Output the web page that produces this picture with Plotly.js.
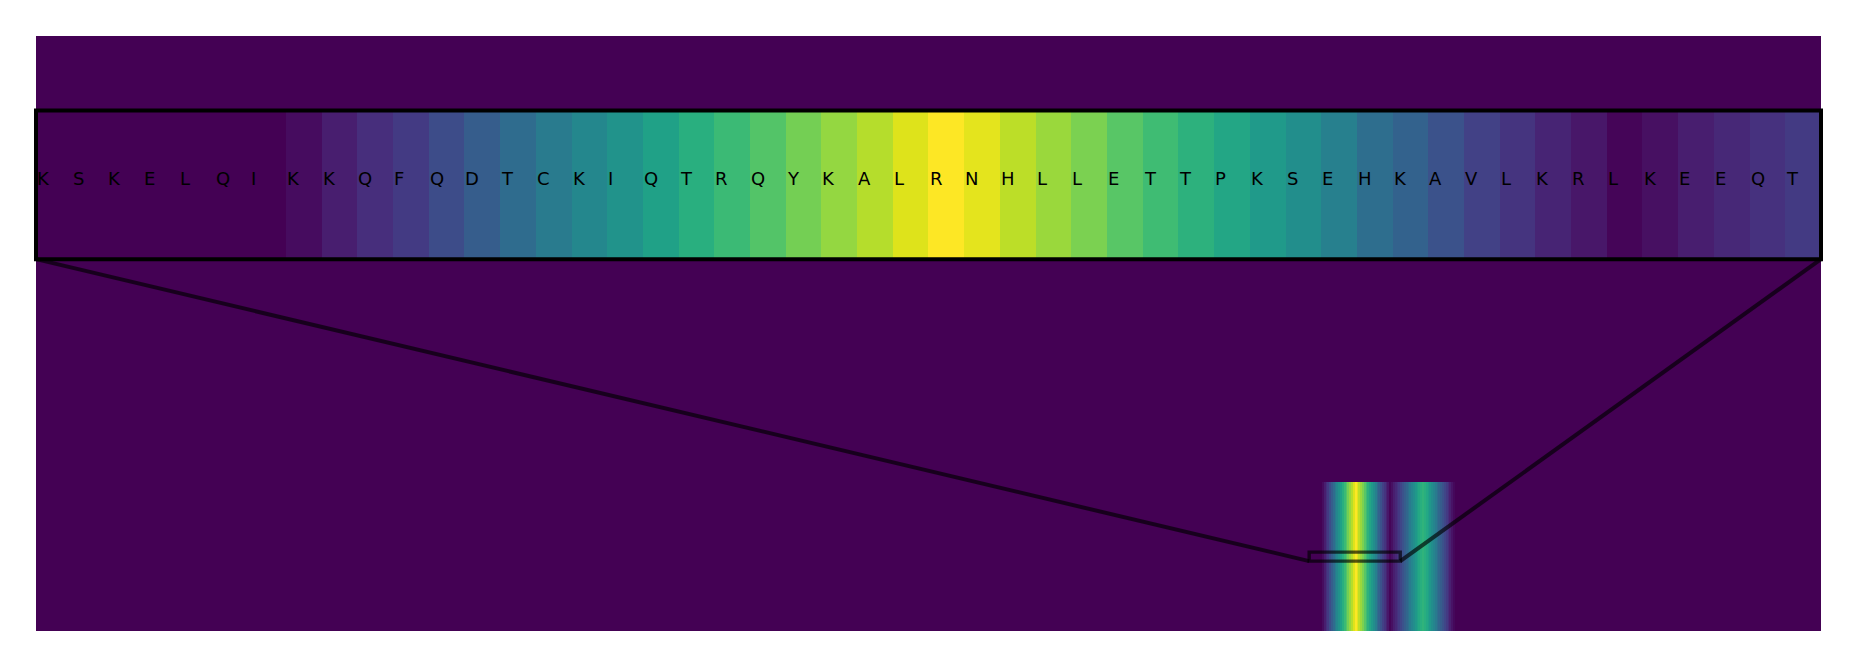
<!DOCTYPE html>
<html>
<head>
<meta charset="utf-8">
<script src="https://cdn.plot.ly/plotly-3.0.1.min.js"></script>
<style>html,body{margin:0;padding:0;background:#fff;}#chart{width:1857px;height:667px;}</style>
</head>
<body>
<div id="chart"></div>
<script>
// ---- data ----
const seqLength = 980;          // number of positions in the main row
const rowCount = 4;             // rows of the main image (only the bottom one is active)
const insetStart = 699;         // first position shown in the zoomed inset
const seqLetters = ["K","S","K","E","L","Q","I","K","K","Q","F","Q","D","T","C","K","I","Q","T","R",
                    "Q","Y","K","A","L","R","N","H","L","L","E","T","T","P","K","S","E","H","K","A",
                    "V","L","K","R","L","K","E","E","Q","T"];
const insetValues = [0,0,0,0,0,0,0,0.03,0.08,0.13,0.17,0.23,0.29,0.35,0.41,0.46,0.51,0.57,0.63,0.68,
                     0.73,0.79,0.84,0.89,0.95,1.00,0.96,0.90,0.85,0.80,0.74,0.69,0.64,0.59,0.54,0.49,0.43,0.36,0.31,0.25,
                     0.19,0.15,0.10,0.06,0.01,0.04,0.08,0.11,0.14,0.17];
const secondPeakTail = [0.21,0.25,0.29,0.33,0.37,0.41,0.45,0.49,0.53,0.57,0.60,0.63,0.65,
                        0.63,0.60,0.57,0.53,0.49,0.45,0.41,0.37,0.33,0.29,0.25,0.21,0.17,0.13,0.09,0.05,0.02];

// ---- build the image rows ----
const activeRow = new Array(seqLength).fill(0);
insetValues.forEach((v, i) => { activeRow[insetStart + i] = v; });
secondPeakTail.forEach((v, i) => { activeRow[insetStart + insetValues.length + i] = v; });
const z = [];
for (let r = 0; r < rowCount; r++) z.push(r === 0 ? activeRow : new Array(seqLength).fill(0));
const xs = Array.from({length: seqLength}, (_, i) => i);
const ys = Array.from({length: rowCount}, (_, i) => i);

const mainX = [-0.5, seqLength - 0.5];
const mainY = [-0.5, rowCount - 0.5];
const halfH = 0.03;
const insetX = [insetStart - 0.5, insetStart + seqLetters.length - 0.5];
const insetY = [-halfH, halfH];
const insetDomain = [0.625, 0.875];

const hm = {type: 'heatmap', x: xs, y: ys, z: z, colorscale: 'Viridis', zmin: 0, zmax: 1,
            showscale: false, zsmooth: false, hoverinfo: 'skip'};
const traces = [
  Object.assign({}, hm, {xaxis: 'x', yaxis: 'y'}),
  Object.assign({}, hm, {xaxis: 'x2', yaxis: 'y2'})
];

// paper coordinates of the zoom rectangle corners
const px = v => (v - mainX[0]) / (mainX[1] - mainX[0]);
const py = v => (v - mainY[0]) / (mainY[1] - mainY[0]);
const lineStyle = {color: 'rgba(0,0,0,0.65)', width: 4};
const shapes = [
  {type: 'rect', xref: 'x', yref: 'y', x0: insetX[0], x1: insetX[1], y0: insetY[0], y1: insetY[1],
   line: {color: 'rgba(0,0,0,0.65)', width: 3.4}, layer: 'above'},
  {type: 'line', xref: 'paper', yref: 'paper', x0: 0, y0: insetDomain[0], x1: px(insetX[0]), y1: py(insetY[0]),
   line: lineStyle, layer: 'above'},
  {type: 'line', xref: 'paper', yref: 'paper', x0: 1, y0: insetDomain[0], x1: px(insetX[1]), y1: py(insetY[0]),
   line: lineStyle, layer: 'above'},
  {type: 'rect', xref: 'paper', yref: 'paper', x0: 0, x1: 1, y0: insetDomain[0], y1: insetDomain[1],
   line: {color: '#000', width: 4}, layer: 'above'}
];

const annotations = seqLetters.map((ch, i) => ({
  xref: 'x2', yref: 'y2', x: insetStart + i - 0.5, xshift: -1, y: halfH * 0.08, text: ch, showarrow: false,
  xanchor: 'left', yanchor: 'middle', font: {family: 'DejaVu Sans', size: 18, color: '#000'}
}));

const noAxis = {visible: false, showgrid: false, zeroline: false, fixedrange: true};
const layout = {
  width: 1857, height: 667,
  margin: {l: 36, r: 36, t: 36, b: 36, pad: 0},
  paper_bgcolor: '#fff', plot_bgcolor: '#440154',
  showlegend: false,
  xaxis: Object.assign({}, noAxis, {range: mainX, domain: [0, 1], anchor: 'y'}),
  yaxis: Object.assign({}, noAxis, {range: mainY, domain: [0, 1], anchor: 'x'}),
  xaxis2: Object.assign({}, noAxis, {range: insetX, domain: [0, 1], anchor: 'y2'}),
  yaxis2: Object.assign({}, noAxis, {range: insetY, domain: insetDomain, anchor: 'x2'}),
  shapes: shapes,
  annotations: annotations
};
Plotly.newPlot('chart', traces, layout, {displayModeBar: false, staticPlot: true});
</script>
</body>
</html>
